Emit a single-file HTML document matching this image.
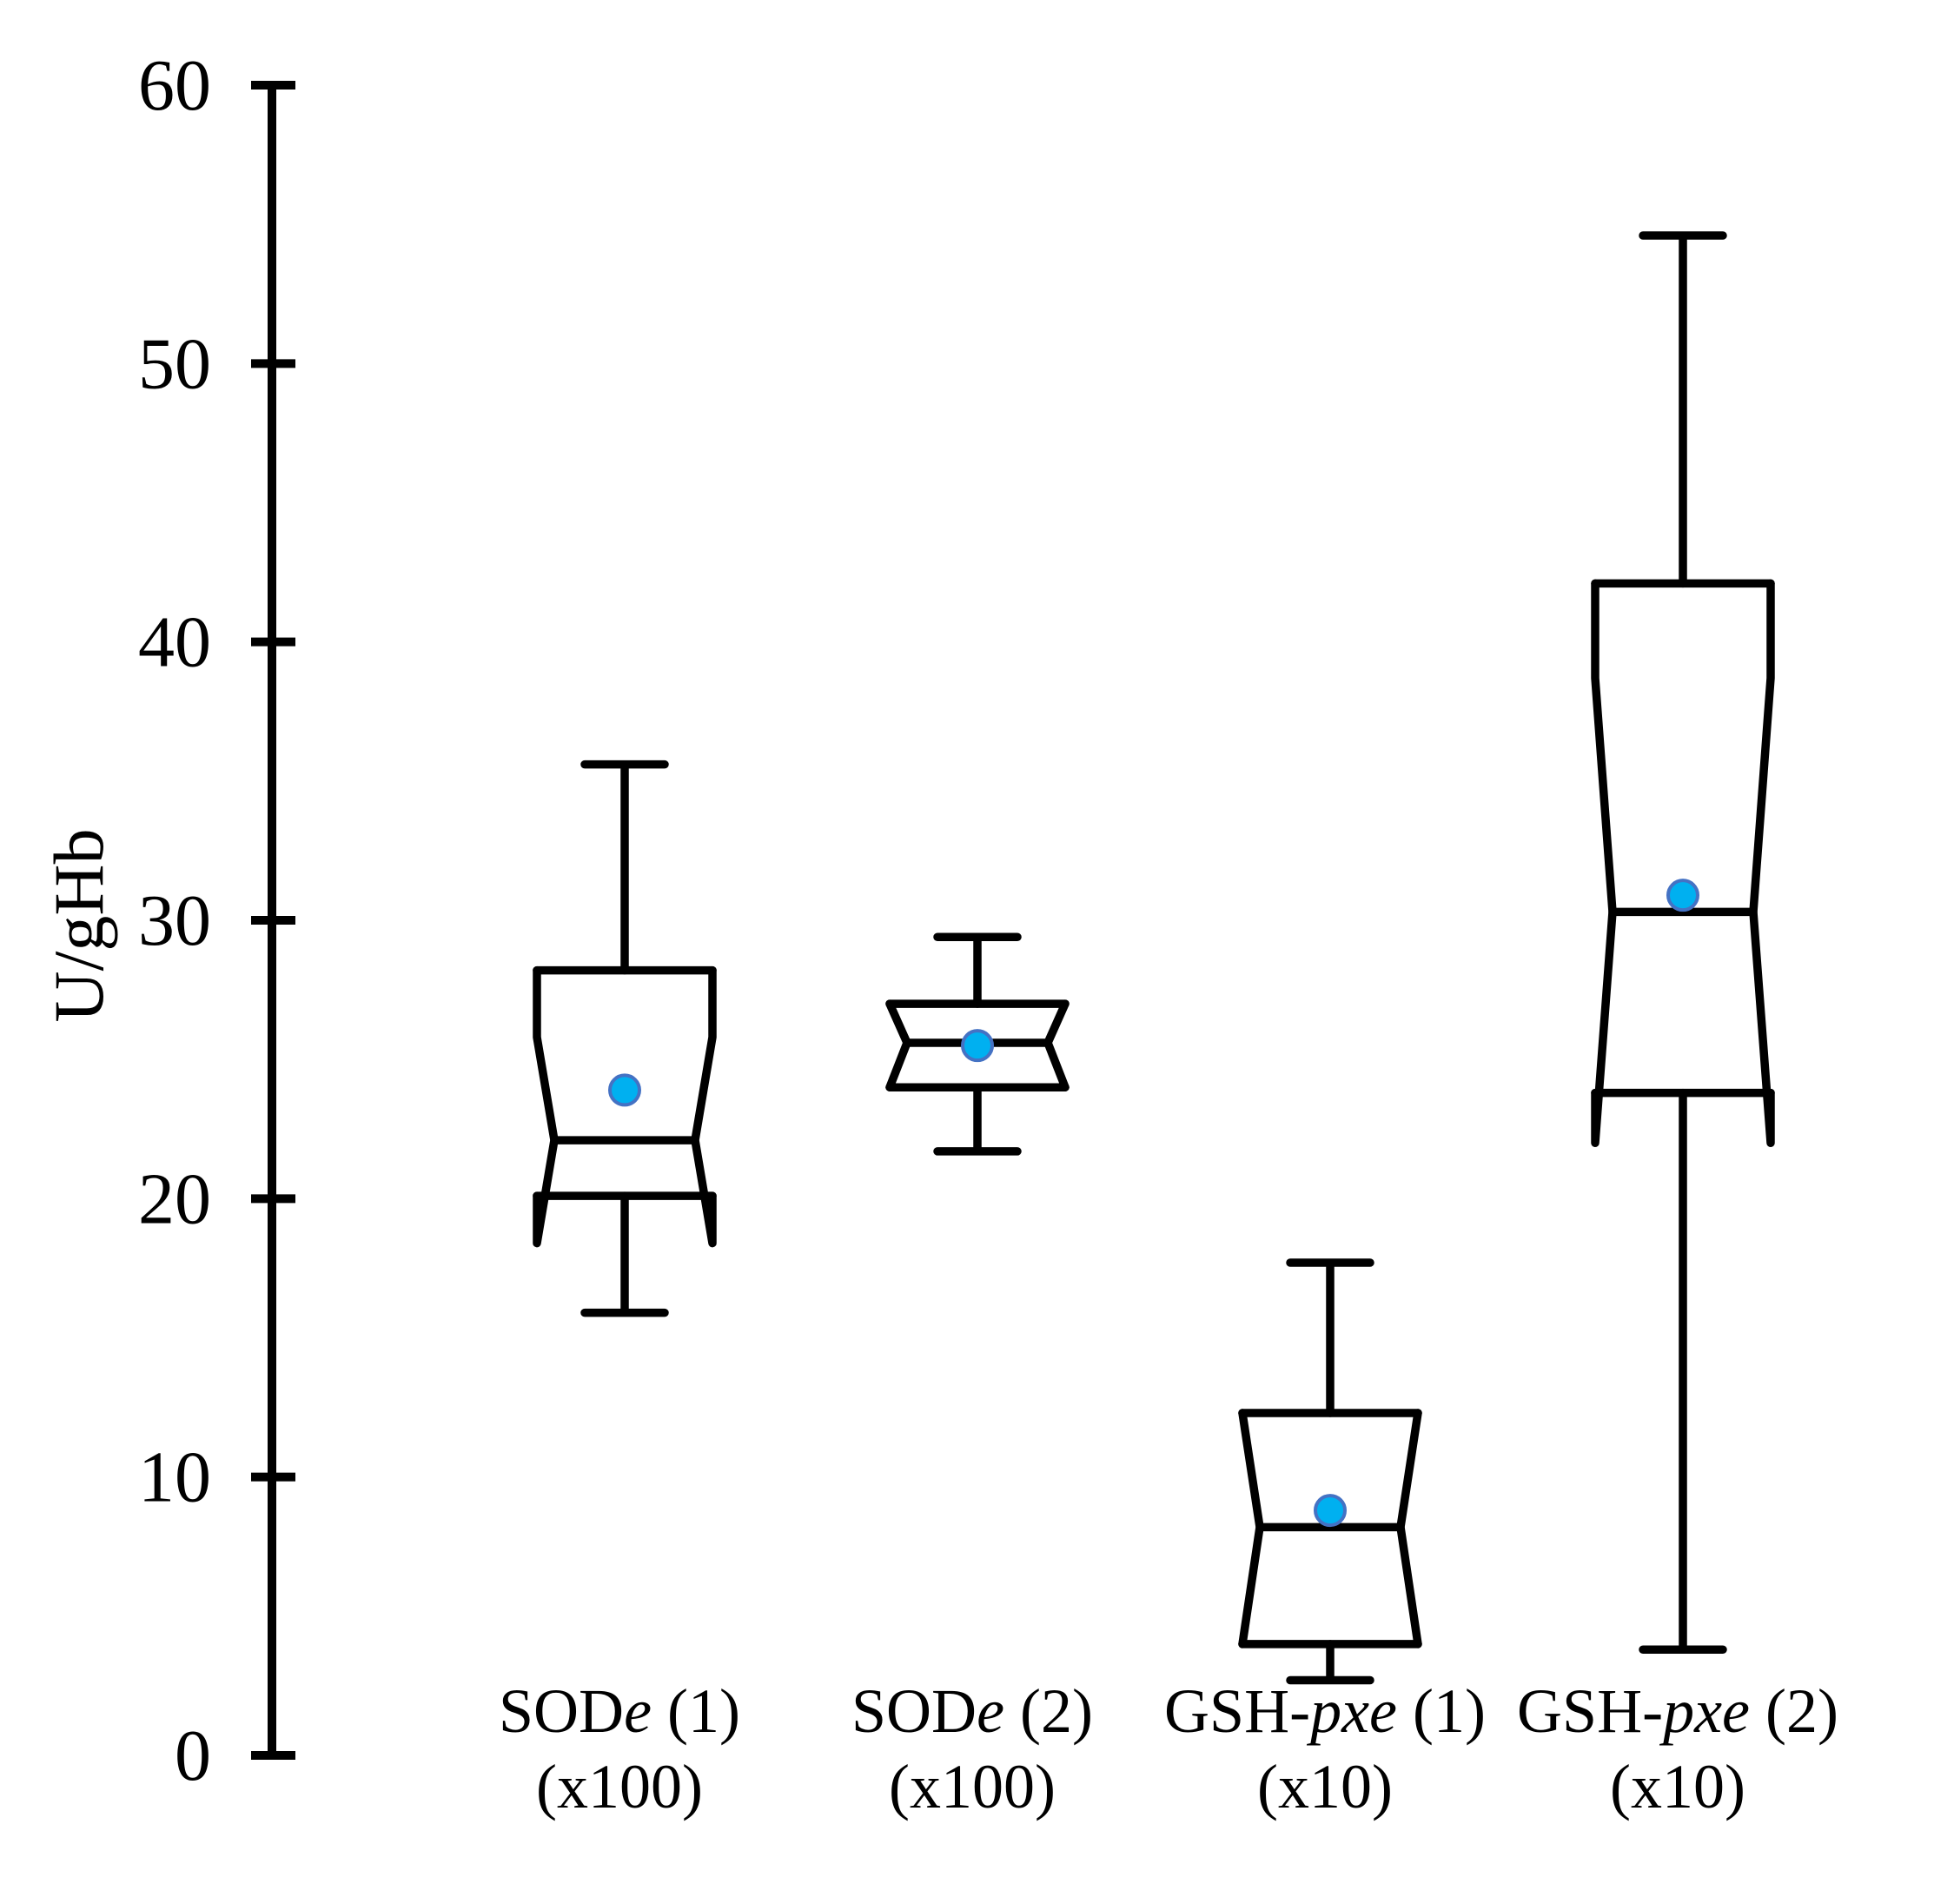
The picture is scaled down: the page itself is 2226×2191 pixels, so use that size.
<!DOCTYPE html>
<html><head><meta charset="utf-8"><style>
html,body{margin:0;padding:0;background:#fff;}
svg{display:block;}
text{font-family:"Liberation Serif","Times New Roman",serif;fill:#000;}
</style></head><body>
<svg id="chart" width="2226" height="2191" viewBox="0 0 2226 2191" xmlns="http://www.w3.org/2000/svg"></svg>
<script>
const categories = ["SODe (1)", "SODe (2)", "GSH-pxe (1)", "GSH-pxe (2)"];
const whiskerMax = [35.6, 29.4, 17.7, 54.6];
const q3Values = [28.2, 27.0, 12.3, 42.1];
const notchTop = [25.8, 27.0, 12.3, 38.7];
const medians = [22.1, 25.6, 8.2, 30.3];
const notchBottom = [18.4, 24.0, 4.0, 22.0];
const q1Values = [20.1, 24.0, 4.0, 23.8];
const whiskerMin = [15.9, 21.7, 2.7, 3.8];
const means = [23.9, 25.5, 8.8, 30.9];
const yTicks = [0, 10, 20, 30, 40, 50, 60];

const NS = "http://www.w3.org/2000/svg";
const svg = document.getElementById("chart");
const y0 = 2020, pxPer = (2020 - 98) / 60;
function yS(v){ return y0 - v * pxPer; }
function xS(i){ return 719 + i * 406; }
function mk(tag, attrs, parent){
  const e = document.createElementNS(NS, tag);
  for (const k in attrs) e.setAttribute(k, attrs[k]);
  (parent || svg).appendChild(e);
  return e;
}
const SW = 9.5;
const axisG = mk("g", {});


const axl = mk("line", {x1:313, x2:313, y1:yS(60), y2:yS(0), stroke:"#000", "stroke-width":10}, axisG);


yTicks.forEach(t => {
  const tk = mk("line", {x1:289, x2:340, y1:yS(t), y2:yS(t), stroke:"#000", "stroke-width":10}, axisG);
  
  
  const lb = mk("text", {x:243, y:yS(t) + 28, "text-anchor":"end", "font-size":84}, axisG);
  lb.textContent = t;
  
  
});
const yt = mk("text", {x:0, y:0, "text-anchor":"middle", "font-size":82, transform:"translate(118,1065) rotate(-90)"});
yt.textContent = "U/gHb";



const hw = 101, ins = 20, cap = 46;
const subs = ["(x100)", "(x100)", "(x10)", "(x10)"];
categories.forEach((c, i) => {
  const x = xS(i);
  const g = mk("g", {fill:"none", stroke:"#000", "stroke-width":SW, "stroke-linejoin":"round", "stroke-linecap":"round"});
  
  
  const tQ3 = yS(q3Values[i]), tNT = yS(Math.min(notchTop[i], q3Values[i]));
  const tMed = yS(medians[i]), tQ1 = yS(q1Values[i]);
  const tNB = yS(Math.min(notchBottom[i], q1Values[i]));
  const wu = mk("path", {d:`M${x},${tQ3} V${yS(whiskerMax[i])} M${x-cap},${yS(whiskerMax[i])} H${x+cap}`}, g);
  
  
  const wl = mk("path", {d:`M${x},${tQ1} V${yS(whiskerMin[i])} M${x-cap},${yS(whiskerMin[i])} H${x+cap}`}, g);
  
  
  [-1, 1].forEach(s => {
    const xo = x + s * hw, xi = x + s * (hw - ins);
    const sd = mk("path", {d:`M${xo},${tQ3} V${tNT} L${xi},${tMed} L${xo},${tNB}` + (tNB > tQ1 ? ` V${tQ1}` : "")}, g);
    
    
  });
  const top = mk("line", {x1:x-hw, x2:x+hw, y1:tQ3, y2:tQ3}, g);
  
  
  const bot = mk("line", {x1:x-hw, x2:x+hw, y1:tQ1, y2:tQ1}, g);
  
  
  const md = mk("line", {x1:x-hw+ins, x2:x+hw-ins, y1:tMed, y2:tMed}, g);
  
  
  const dot = mk("circle", {cx:x, cy:yS(means[i]), r:17, fill:"#00b0f0", stroke:"#4472c4", "stroke-width":4});
  
  
  const parts = c.match(/^(SOD|GSH-)(e|pxe)( \(\d\))$/);
  const l1 = mk("text", {x:x - 6, y:1993, "text-anchor":"middle", "font-size":72});
  
  
  const a = mk("tspan", {}, l1); a.textContent = parts[1];
  const b = mk("tspan", {"font-style":"italic"}, l1); b.textContent = parts[2];
  const d = mk("tspan", {}, l1); d.textContent = parts[3];
  const l2 = mk("text", {x:x - 6, y:2080, "text-anchor":"middle", "font-size":72});
  l2.textContent = subs[i];
  
  
});
</script>
</body></html>
